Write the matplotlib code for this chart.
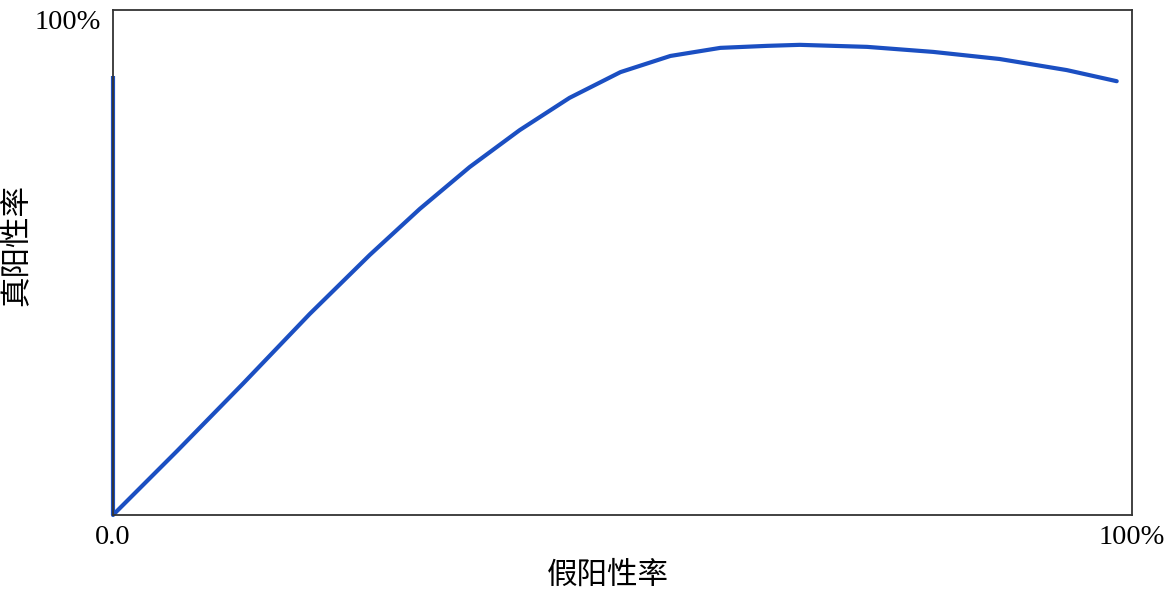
import matplotlib
matplotlib.use("Agg")
import matplotlib.pyplot as plt

# ROC-like curve (fractions of the axis)
fpr = [0.0, 0.063, 0.128, 0.193, 0.252, 0.301, 0.350, 0.399, 0.448,
       0.498, 0.547, 0.596, 0.642, 0.674, 0.740, 0.805, 0.870, 0.936,
       0.985]
tpr = [0.0, 0.127, 0.261, 0.398, 0.515, 0.606, 0.689, 0.762, 0.826,
       0.877, 0.909, 0.925, 0.929, 0.931, 0.927, 0.917, 0.903, 0.881,
       0.859]

# vertical segment on the left edge
vert_x = [0.0, 0.0]
vert_y = [0.0, 0.869]

xtick_labels = ['0.0', '100%']
ytick_labels = ['100%']
xlabel = '假阳性率'
ylabel = '真阳性率'

blue = '#1b4fc2'
num_font = ['Liberation Serif', 'DejaVu Serif']
cjk_font = ['Noto Sans CJK SC', 'DejaVu Sans']

fig = plt.figure(figsize=(11.64, 5.92), dpi=100)
ax = fig.add_axes([113 / 1164, 77 / 592, 1019 / 1164, 505 / 592])

ax.plot(vert_x, vert_y, color=blue, lw=3, solid_capstyle='butt', clip_on=False)
ax.plot(fpr, tpr, color=blue, lw=3, solid_capstyle='round',
        solid_joinstyle='round', clip_on=False)

ax.set_xlim(0, 1)
ax.set_ylim(0, 1)

for s in ax.spines.values():
    s.set_color('#333333')
    s.set_linewidth(1.3)

ax.set_xticks([0, 1])
ax.set_xticklabels(xtick_labels, family=num_font, fontsize=20.5)
ax.set_yticks([1])
ax.set_yticklabels(ytick_labels, family=num_font, fontsize=20.5)
ax.tick_params(axis='x', length=0, pad=7)
ax.tick_params(axis='y', length=0, pad=9)
for t in ax.get_yticklabels():
    t.set_va('top')
    t.set_y(1.0)

ax.set_xlabel(xlabel, family=cjk_font, fontsize=22)
ax.xaxis.set_label_coords(0.486, -0.088)
ax.set_ylabel(ylabel, family=cjk_font, fontsize=22)
ax.yaxis.set_label_coords(-0.08, 0.535)

fig.savefig('out.png', dpi=100)
